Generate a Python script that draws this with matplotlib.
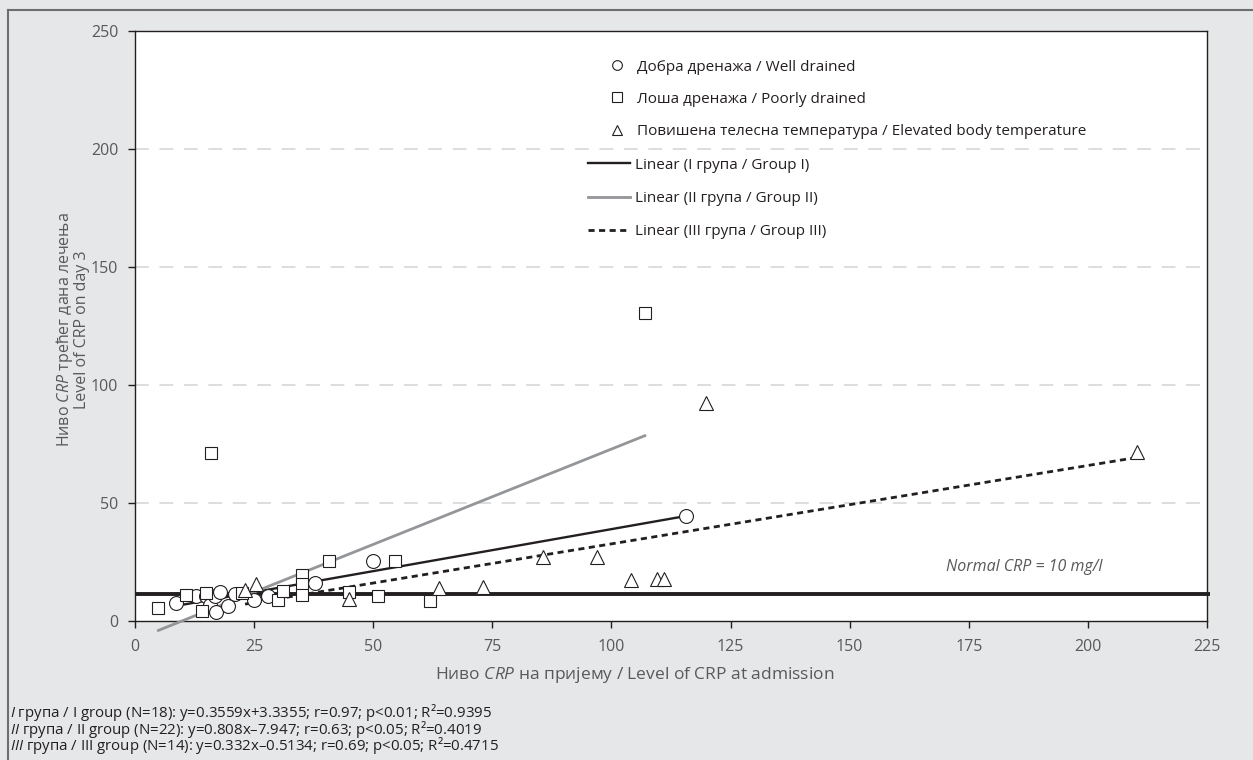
import matplotlib
matplotlib.use('Agg')
import matplotlib.pyplot as plt
from matplotlib.lines import Line2D

plt.rcParams['font.family'] = ['Open Sans', 'DejaVu Sans']
plt.rcParams['mathtext.fontset'] = 'custom'
plt.rcParams['mathtext.rm'] = 'Open Sans'
plt.rcParams['mathtext.it'] = 'Open Sans:italic'

# ---------------- data ----------------
well_x = [8.7, 12.9, 14.9, 15.7, 16.8, 17.8, 17.0, 19.5, 21.0, 25.0, 28.0, 37.8, 50.0, 115.7]
well_y = [7.5, 10.6, 10.6, 6.8, 10.6, 12.2, 3.9, 6.4, 11.3, 8.9, 10.6, 16.2, 25.5, 44.5]

poor_x = [4.9, 10.8, 14.0, 15.0, 16.0, 22.4, 30.1, 31.0, 35.0, 35.0, 35.0, 40.7, 44.9, 50.9, 54.6, 61.9, 107.0]
poor_y = [5.4, 11.0, 4.4, 11.7, 71.2, 11.7, 8.9, 12.7, 19.5, 15.7, 11.0, 25.5, 12.4, 10.6, 25.5, 8.6, 130.4]

fever_x = [23.1, 25.5, 44.9, 63.9, 73.0, 85.7, 96.9, 104.0, 109.6, 111.0, 119.9, 210.3]
fever_y = [13.1, 15.7, 9.2, 13.8, 14.5, 27.2, 27.2, 17.4, 17.9, 17.9, 92.2, 71.5]

# regression coefficients (slope, intercept) from the footnote
fit_I = (0.3559, 3.3355)
fit_II = (0.808, -7.947)
fit_III = (0.332, -0.5134)

normal_crp = 11.5

x_ticks = [0, 25, 50, 75, 100, 125, 150, 175, 200, 225]
y_ticks = [0, 50, 100, 150, 200, 250]

series_labels = ['Добра дренажа / Well drained',
                 'Лоша дренажа / Poorly drained',
                 'Повишена телесна температура / Elevated body temperature']
fit_labels = ['Linear (I група / Group I)',
              'Linear (II група / Group II)',
              'Linear (III група / Group III)']

footnotes = [r'$\mathit{I}$ група / I group (N=18): y=0.3559x+3.3355; r=0.97; p<0.01; R²=0.9395',
             r'$\mathit{II}$ група / II group (N=22): y=0.808x–7.947; r=0.63; p<0.05; R²=0.4019',
             r'$\mathit{III}$ група / III group (N=14): y=0.332x–0.5134; r=0.69; p<0.05; R²=0.4715']

# ---------------- figure ----------------
W, H = 1253, 760
fig = plt.figure(figsize=(W / 100, H / 100), dpi=100, facecolor='#e6e7e8')
ax = fig.add_axes([135 / W, 1 - 621 / H, (1207 - 135) / W, (621 - 31) / H])
ax.set_facecolor('white')

dark = '#231f20'
gray_txt = '#58595b'

# outer border (top + left)
fig.add_artist(Line2D([8 / W, 8 / W], [0, 1 - 10 / H], transform=fig.transFigure, color='#6d6e71', lw=1.5))
fig.add_artist(Line2D([8 / W, 1], [1 - 10 / H, 1 - 10 / H], transform=fig.transFigure, color='#6d6e71', lw=1.5))

ax.set_xlim(0, 225)
ax.set_ylim(0, 250)
ax.set_xticks(x_ticks)
ax.set_yticks(y_ticks)
ax.tick_params(direction='out', length=5, width=1, color=dark, labelcolor=gray_txt, labelsize=11.5)
ax.tick_params(axis='x', pad=8)
ax.tick_params(axis='y', pad=7)
for s in ax.spines.values():
    s.set_color(dark)
    s.set_linewidth(1.0)

for yv in y_ticks[1:-1]:
    ax.axhline(yv, color='#d1d3d4', lw=1.1, dashes=(9, 7), zorder=1)

# normal CRP line
ax.plot([0, 225.6], [normal_crp, normal_crp], color=dark, lw=2.8, solid_capstyle='butt', clip_on=False, zorder=3)

# trend lines over each group's x range
def fit_line(xs, coef):
    x0, x1 = min(xs), max(xs)
    return [x0, x1], [coef[0] * x0 + coef[1], coef[0] * x1 + coef[1]]

lx, ly = fit_line(well_x, fit_I)
ax.plot(lx, ly, color=dark, lw=1.7, zorder=4, clip_on=False)
lx, ly = fit_line(poor_x, fit_II)
ax.plot(lx, ly, color='#939598', lw=2.0, zorder=4, clip_on=False)
lx, ly = fit_line(fever_x, fit_III)
ax.plot(lx, ly, color=dark, lw=2.0, dashes=(2.2, 1.6), zorder=4, clip_on=False)

mk = dict(linestyle='none', markerfacecolor='white', markeredgecolor=dark, markeredgewidth=0.8, zorder=5)
ax.plot(well_x, well_y, marker='o', markersize=10, **mk)
ax.plot(poor_x, poor_y, marker='s', markersize=9, **mk)
ax.plot(fever_x, fever_y, marker='^', markersize=10, **mk)

# legends
h_m = [Line2D([], [], marker='o', markersize=7, **mk),
       Line2D([], [], marker='s', markersize=6.5, **mk),
       Line2D([], [], marker='^', markersize=7, **mk)]
leg1 = ax.legend(h_m, series_labels, loc='upper left', bbox_to_anchor=(600 / W, 1 - 52 / H),
                 bbox_transform=fig.transFigure, frameon=False, fontsize=11, handlelength=1.2,
                 handletextpad=0.7, labelspacing=1.12, borderpad=0, labelcolor=dark)
ax.add_artist(leg1)
h_l = [Line2D([], [], color=dark, lw=1.7),
       Line2D([], [], color='#939598', lw=2.0),
       Line2D([], [], color=dark, lw=2.0, dashes=(2.2, 1.6))]
ax.legend(h_l, fit_labels, loc='upper left', bbox_to_anchor=(580 / W, 1 - 150 / H),
          bbox_transform=fig.transFigure, frameon=False, fontsize=11, handlelength=2.8,
          handletextpad=0.3, labelspacing=1.2, borderpad=0, labelcolor=dark)

ax.text(170.2, 23.0, 'Normal CRP = 10 mg/l', style='italic', color=gray_txt, fontsize=11.5,
        ha='left', va='center', zorder=6)

ax.set_xlabel(r'Ниво $\mathit{CRP}$ на пријему / Level of CRP at admission', color=gray_txt, fontsize=12.5)
ax.xaxis.set_label_coords((635 - 135) / (1207 - 135), -0.075)
ax.set_ylabel('Ниво $\\mathit{CRP}$ трећег дана лечења\nLevel of CRP on day 3', color=gray_txt, fontsize=11.5,
              linespacing=0.95)
ax.yaxis.set_label_coords(-(135 - 90) / (1207 - 135), (621 - 330) / (621 - 31))

fig.text(10 / W, 1 - 729 / H, '\n'.join(footnotes), fontsize=10.8, color=dark, ha='left', va='center',
         linespacing=0.71)

fig.savefig('out.png', dpi=100, facecolor=fig.get_facecolor())
